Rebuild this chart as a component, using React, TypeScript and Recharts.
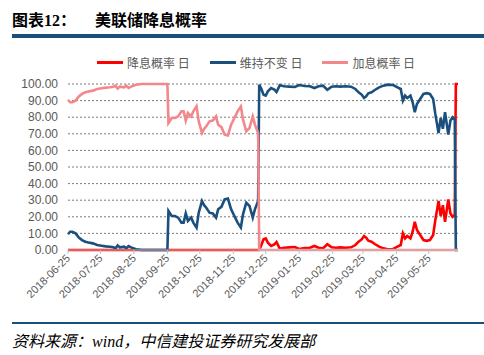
import { LineChart, Line, XAxis, YAxis, CartesianGrid } from "recharts";

// sample dates (calendar days)
const dates = [
  "2018-06-25", "2018-06-27", "2018-06-29", "2018-07-02", "2018-07-05", "2018-07-08", "2018-07-11", "2018-07-14", "2018-07-18", "2018-07-22",
  "2018-07-26", "2018-07-30", "2018-08-03", "2018-08-06", "2018-08-08", "2018-08-10", "2018-08-12", "2018-08-16", "2018-08-18", "2018-08-20",
  "2018-08-23", "2018-08-27", "2018-09-01", "2018-09-13", "2018-09-25",
  "2018-09-26", "2018-09-29", "2018-10-02", "2018-10-05", "2018-10-08", "2018-10-10", "2018-10-12", "2018-10-14", "2018-10-17", "2018-10-19",
  "2018-10-22", "2018-10-24", "2018-10-27", "2018-10-29", "2018-10-31", "2018-11-03", "2018-11-06", "2018-11-09", "2018-11-11", "2018-11-14",
  "2018-11-17", "2018-11-20", "2018-11-23", "2018-11-26", "2018-11-29", "2018-12-02", "2018-12-04", "2018-12-07", "2018-12-10", "2018-12-13",
  "2018-12-15", "2018-12-18",
  "2018-12-19", "2018-12-21", "2018-12-23", "2018-12-25", "2018-12-27", "2018-12-30", "2019-01-02", "2019-01-04", "2019-01-07", "2019-01-11",
  "2019-01-16", "2019-01-21", "2019-01-25", "2019-01-30", "2019-02-04", "2019-02-08", "2019-02-12", "2019-02-16", "2019-02-20", "2019-02-24",
  "2019-02-28", "2019-03-04", "2019-03-09", "2019-03-14", "2019-03-18", "2019-03-21", "2019-03-24", "2019-03-26", "2019-03-28", "2019-03-30",
  "2019-04-02", "2019-04-05", "2019-04-09", "2019-04-13", "2019-04-17", "2019-04-22", "2019-04-26", "2019-04-29", "2019-05-01", "2019-05-03",
  "2019-05-05", "2019-05-08", "2019-05-10", "2019-05-12", "2019-05-14", "2019-05-17", "2019-05-20", "2019-05-23", "2019-05-26", "2019-05-29",
  "2019-05-31", "2019-06-03", "2019-06-05", "2019-06-07", "2019-06-09", "2019-06-12", "2019-06-14", "2019-06-16", "2019-06-18", "2019-06-19",
  "2019-06-21",
];

// 降息概率 日
const cutProb = [
  0, 0, 0, 0, 0, 0, 0, 0, 0, 0,
  0, 0, 0, 0, 0, 0, 0, 0, 0, 0,
  0, 0, 0, 0, 0,
  0, 0, 0, 0, 0, 0, 0, 0, 0, 0,
  0, 0, 0, 0, 0, 0, 0, 0, 0, 0,
  0, 0, 0, 0, 0, 0, 0, 0, 0, 0,
  0, 0,
  0, 3, 6.5, 7, 4.4, 2.4, 3.4, 4.8, 0.8, 1.4,
  1.6, 1.8, 0.6, 1.2, 1.4, 2.4, 1.4, 1, 3.5, 1.6,
  1.4, 1.6, 1.4, 1.6, 3, 5, 6.5, 8.4, 7.4, 5.6,
  5, 3.6, 2, 1, 0.4, 0.6, 2, 3, 10, 7,
  8.4, 7, 11, 17, 12, 9, 6, 5.5, 6, 9,
  18, 29.5, 20.5, 27, 17, 30.5, 22, 20, 21, 100,
  100,
];

// 维持不变 日
const holdProb = [
  9.5, 11, 11, 10, 7.5, 6, 5, 4.5, 4, 3,
  2.6, 2.2, 2, 1.6, 1, 2.8, 1.6, 2, 1, 2.4,
  1.4, 0.5, 0, 0, 0,
  23.5, 20.5, 20.5, 19.5, 16.5, 16.5, 22, 17.5, 19.5, 16.5,
  13.5, 22.5, 29.5, 27, 25.5, 22.5, 22, 19.5, 24.5, 26,
  30.5, 31, 24.5, 20.5, 16.5, 13.5, 21.5, 28.5, 26.5, 19.5,
  24.5, 29.5,
  99.6, 97, 93.5, 93, 95.6, 97.6, 96.6, 95.2, 99.2, 98.6,
  98.4, 98.2, 99.4, 98.8, 98.6, 97.6, 98.6, 99, 96.5, 98.4,
  98.6, 98.4, 98.6, 98.4, 97, 95, 93.5, 91.6, 92.6, 94.4,
  95, 96.4, 98, 99, 99.6, 99.4, 98, 97, 90, 93,
  91.6, 93, 89, 83, 88, 91, 94, 94.5, 94, 91,
  82, 70.5, 79.5, 73, 83, 69.5, 78, 80, 79, 0,
  0,
];

// 加息概率 日
const hikeProb = [
  90.5, 89, 89, 90, 92.5, 94, 95, 95.5, 96, 97,
  97.4, 97.8, 98, 98.4, 99, 97.2, 98.4, 98, 99, 97.6,
  98.6, 99.5, 100, 100, 100,
  76.5, 79.5, 79.5, 80.5, 83.5, 83.5, 78, 82.5, 80.5, 83.5,
  86.5, 77.5, 70.5, 73, 74.5, 77.5, 78, 80.5, 75.5, 74,
  69.5, 69, 75.5, 79.5, 83.5, 86.5, 78.5, 71.5, 73.5, 80.5,
  75.5, 70.5,
  0, 0, 0, 0, 0, 0, 0, 0, 0, 0,
  0, 0, 0, 0, 0, 0, 0, 0, 0, 0,
  0, 0, 0, 0, 0, 0, 0, 0, 0, 0,
  0, 0, 0, 0, 0, 0, 0, 0, 0, 0,
  0, 0, 0, 0, 0, 0, 0, 0, 0, 0,
  0, 0, 0, 0, 0, 0, 0, 0, 0, 0,
  0,
];

const seriesKeys = ["cut", "hold", "hike"];
const seriesNames = ["降息概率 日", "维持不变 日", "加息概率 日"];
const seriesColors = ["#FF0000", "#1B4F7D", "#F4878A"];

const xTicks = [
  "2018-06-25", "2018-07-25", "2018-08-25", "2018-09-25", "2018-10-25", "2018-11-25",
  "2018-12-25", "2019-01-25", "2019-02-25", "2019-03-25", "2019-04-25", "2019-05-25",
];
const yTicks = [0, 10, 20, 30, 40, 50, 60, 70, 80, 90, 100];

const data = dates.map((d, i) => ({
  t: Date.parse(d),
  cut: cutProb[i],
  hold: holdProb[i],
  hike: hikeProb[i],
}));

const AXIS_FONT = "'Liberation Sans', Arial, sans-serif";
const CJK_FONT = "'Noto Sans CJK SC', sans-serif";

const DateTick = ({ x, y, payload }: any) => {
  const label = new Date(payload.value).toISOString().slice(0, 10);
  return (
    <text
      x={x}
      y={y}
      dy={4}
      transform={`rotate(-45 ${x} ${y})`}
      textAnchor="end"
      fontSize={11}
      fontFamily={AXIS_FONT}
      fill="#595959"
    >
      {label}
    </text>
  );
};

export default function App() {
  return (
    <div style={{ position: "absolute", left: 0, top: 0, width: 484, height: 355, background: "#fff" }}>
      {/* title */}
      <div
        style={{
          position: "absolute",
          left: 12,
          top: 10,
          fontSize: 16,
          lineHeight: "18px",
          fontWeight: 700,
          fontFamily: CJK_FONT,
          color: "#000",
          whiteSpace: "nowrap",
        }}
      >
        图表<span style={{ fontFamily: "'Liberation Serif', serif" }}>12</span>：
      </div>
      <div
        style={{
          position: "absolute",
          left: 95,
          top: 10,
          fontSize: 16,
          lineHeight: "18px",
          fontWeight: 700,
          fontFamily: CJK_FONT,
          color: "#000",
          whiteSpace: "nowrap",
        }}
      >
        美联储降息概率
      </div>
      <div style={{ position: "absolute", left: 12, top: 34, width: 472, height: 4, background: "#17507D" }} />

      {/* legend */}
      <div
        style={{
          position: "absolute",
          left: 97,
          top: 54,
          display: "flex",
          alignItems: "center",
          fontFamily: CJK_FONT,
          fontSize: 12,
          color: "#595959",
          whiteSpace: "nowrap",
        }}
      >
        {seriesNames.map((name, i) => (
          <div key={name} style={{ display: "flex", alignItems: "center", marginRight: 20 }}>
            <div style={{ width: 26, height: 3, background: seriesColors[i], marginRight: 4 }} />
            <span>{name}</span>
          </div>
        ))}
      </div>

      <div style={{ position: "absolute", left: 0, top: 40 }}>
        <LineChart
          width={484}
          height={262}
          data={data}
          margin={{ top: 44, right: 26, bottom: 0, left: 8 }}
        >
          <CartesianGrid
            vertical={false}
            stroke="#595959"
            strokeWidth={0.8}
            strokeDasharray="2 2"
          />
          <XAxis
            dataKey="t"
            type="number"
            scale="time"
            domain={[Date.parse("2018-06-25"), Date.parse("2019-06-21")]}
            ticks={xTicks.map((d) => Date.parse(d))}
            interval={0}
            tick={<DateTick />}
            tickLine={{ stroke: "#BFBFBF" }}
            axisLine={{ stroke: "#BFBFBF" }}
            tickSize={4}
            height={52}
          />
          <YAxis
            type="number"
            domain={[0, 100]}
            ticks={yTicks}
            interval={0}
            width={60}
            axisLine={false}
            tickLine={false}
            tickMargin={4}
            tickFormatter={(v: number) => v.toFixed(2)}
            tick={{ fontSize: 12, fill: "#595959", fontFamily: AXIS_FONT }}
          />
          {seriesKeys.map((k, i) => (
            <Line
              key={k}
              type="linear"
              dataKey={k}
              name={seriesNames[i]}
              stroke={seriesColors[i]}
              strokeWidth={2.6}
              dot={false}
              isAnimationActive={false}
            />
          ))}
        </LineChart>
      </div>

      {/* source */}
      <div style={{ position: "absolute", left: 12, top: 322, width: 472, height: 2, background: "#17507D" }} />
      <div
        style={{
          position: "absolute",
          left: 12,
          top: 331,
          fontSize: 16,
          lineHeight: "18px",
          fontStyle: "italic",
          fontFamily: CJK_FONT,
          color: "#000",
          whiteSpace: "nowrap",
        }}
      >
        资料来源：<span style={{ fontFamily: "'Liberation Serif', serif" }}>wind</span>，中信建投证券研究发展部
      </div>
    </div>
  );
}
